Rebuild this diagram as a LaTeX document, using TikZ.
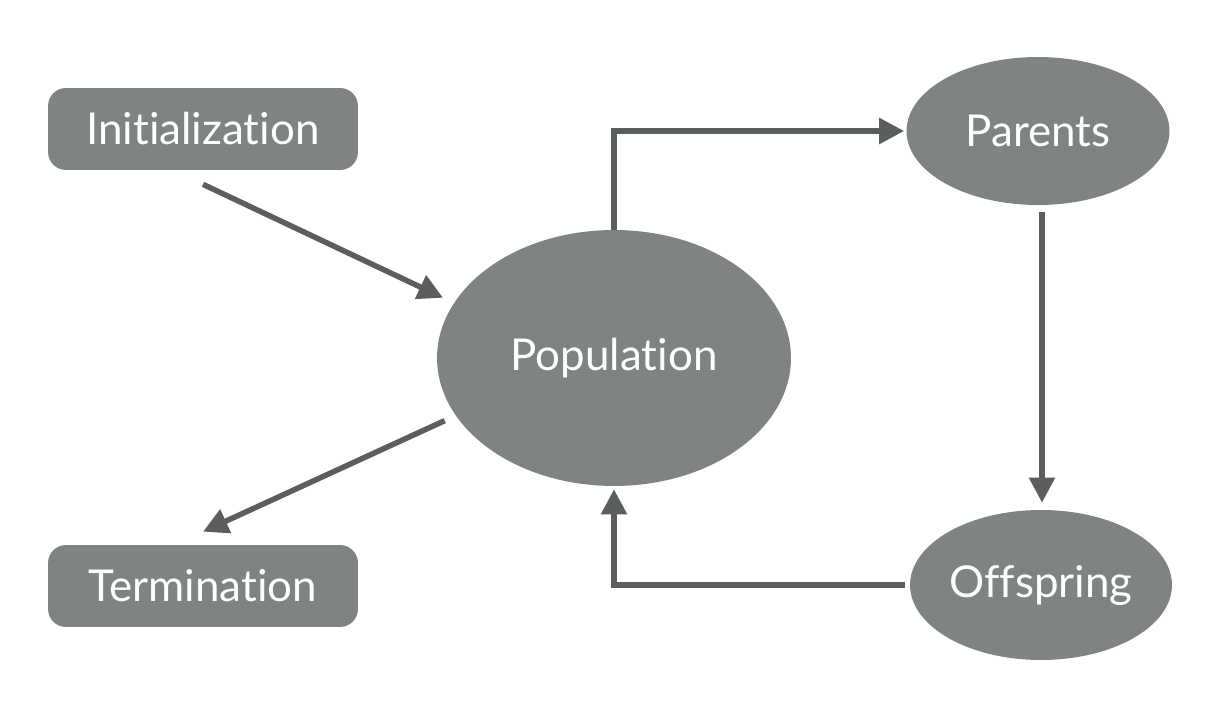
\documentclass[tikz,border=0pt]{standalone}
\usepackage{fontspec}
\setmainfont{Lato}[Ligatures=NoCommon]
\usetikzlibrary{arrows.meta,shapes.geometric}

\definecolor{boxgray}{HTML}{7F8482}
\definecolor{arrowgray}{HTML}{5A5E5C}

\begin{document}
\begin{tikzpicture}[
    x=0.02cm,y=-0.02cm,
    flow/.style={draw=arrowgray,line width=0.11cm,
      -{Triangle[length=0.5cm,width=0.5cm]}}
  ]
        \useasboundingbox (0,0) rectangle (1215,706);

        \begin{scope}[every node/.style={fill=boxgray,text=white,inner sep=0pt,
            font=\fontsize{25}{30}\selectfont}]
          \node[rounded corners=0.36cm,minimum width=6.2cm,minimum height=1.64cm]
            (init) at (203,129) {Initialization};
          \node[rounded corners=0.36cm,minimum width=6.2cm,minimum height=1.64cm]
            (term) at (203,586) {Termination};
          \node[ellipse,minimum width=7.08cm,minimum height=5.12cm]
            (pop) at (614,358) {Population};
          \node[ellipse,minimum width=5.26cm,minimum height=2.96cm]
            (parents) at (1038,131) {Parents};
          \node[ellipse,minimum width=5.24cm,minimum height=3.0cm]
            (offspring) at (1041,585) {Offspring};
        \end{scope}

        \draw[flow,shorten >=0.24cm] ([yshift=-0.28cm]init.south) -- (pop.161);
        \draw[flow,shorten <=0.24cm] (pop.200) -- ([yshift=0.26cm]term.north);
        \draw[flow] (pop.north) |- ([xshift=-0.04cm]parents.west);
        \draw[flow,shorten <=0.14cm,shorten >=0.14cm]
          ([xshift=0.08cm]parents.south) -- ([xshift=0.08cm]parents.south |- offspring.north);
        \draw[flow,shorten <=0.1cm,shorten >=0.06cm] (offspring.west) -| (pop.south);

      \end{tikzpicture}
\end{document}
